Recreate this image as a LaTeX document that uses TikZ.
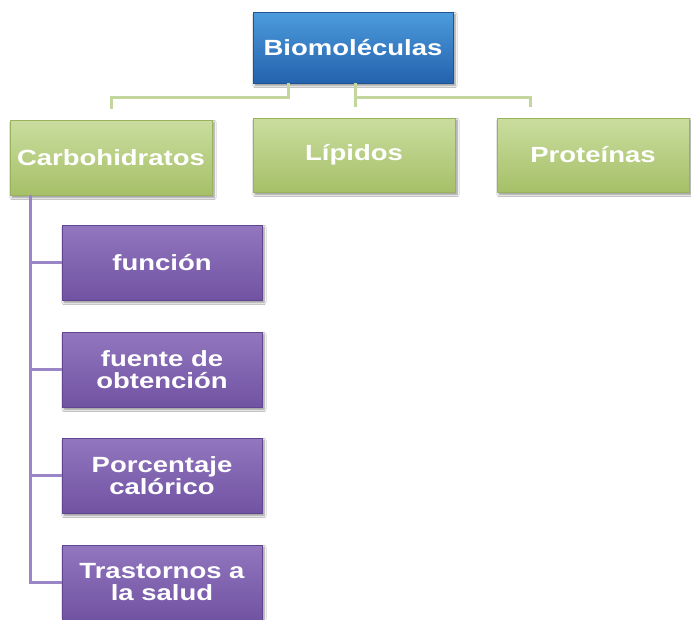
\documentclass[tikz,border=0pt]{standalone}
\usepackage{fontspec}
\setmainfont{Liberation Sans}[FakeStretch=1.25]
\usetikzlibrary{shadows.blur}
\definecolor{bluetop}{HTML}{4C9BDC}
\definecolor{bluebot}{HTML}{2462AE}
\definecolor{blueedge}{HTML}{1F5493}
\definecolor{greentop}{HTML}{CADD9F}
\definecolor{greenbot}{HTML}{A6C068}
\definecolor{greenedge}{HTML}{98B35B}
\definecolor{purptop}{HTML}{9276BE}
\definecolor{purpbot}{HTML}{7153A3}
\definecolor{purpedge}{HTML}{614590}
\definecolor{glinec}{HTML}{C3D69B}
\definecolor{plinec}{HTML}{9A86C6}
\tikzset{
  box/.style={draw, line width=0.8pt, inner sep=2pt, align=center,
    text=white, font=\fontsize{22}{22}\selectfont\bfseries,
    blur shadow={shadow xshift=2pt, shadow yshift=-2.5pt, shadow blur steps=6, shadow opacity=45}},
  bluebox/.style={box, top color=bluetop, bottom color=bluebot, draw=blueedge,
    minimum width=200pt, minimum height=71pt},
  greenbox/.style={box, top color=greentop, bottom color=greenbot, draw=greenedge,
    minimum height=74pt},
  purpbox/.style={box, top color=purptop, bottom color=purpbot, draw=purpedge,
    minimum width=200pt, minimum height=75pt},
  gline/.style={draw=glinec, line width=3pt},
  pline/.style={draw=plinec, line width=3pt},
}
\begin{document}
\begin{tikzpicture}[x=1pt,y=1pt]
\useasboundingbox[fill=white] (0,0) rectangle (691,-619);
\node[bluebox] (bio) at (353,-47.5) {Biomoléculas};
\node[greenbox, minimum width=202pt, minimum height=75pt] (carb) at (111,-157.5) {Carbohidratos};
\node[greenbox, minimum width=202pt] (lip) at (354,-155) {Lípidos};
\node[greenbox, minimum width=192pt] (prot) at (593,-155) {Proteínas};
\node[purpbox] (f1) at (162,-262.5) {función};
\node[purpbox] (f2) at (162,-369.5) {fuente de\\obtención};
\node[purpbox] (f3) at (162,-475.5) {Porcentaje\\calórico};
\node[purpbox] (f4) at (162,-582.5) {Trastornos a\\la salud};
% green connectors
\coordinate (bl) at ([xshift=-65pt]bio.south);
\coordinate (bs) at ([xshift=2pt]bio.south);
\coordinate (carbTop) at ([yshift=11pt]carb.north);
\coordinate (lipTop) at ([yshift=11pt]lip.north);
\coordinate (protTop) at ([xshift=-63pt,yshift=11pt]prot.north);
\path (bs) ++(0,-14) coordinate (j);
\draw[gline] (bl) -- ++(0,-14) -| (carbTop);
\draw[gline] (bs) -- (bs |- lipTop);
\draw[gline] (j) -| (protTop);
% purple connectors
\coordinate (pv) at ([xshift=-81pt]carb.south);
\draw[pline] (pv) |- (f4.west);
\draw[pline] (pv |- f1.west) -- (f1.west);
\draw[pline] (pv |- f2.west) -- (f2.west);
\draw[pline] (pv |- f3.west) -- (f3.west);
\end{tikzpicture}
\end{document}
